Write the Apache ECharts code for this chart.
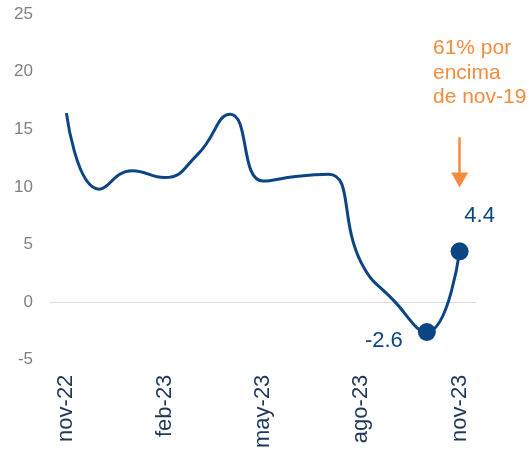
<!DOCTYPE html>
<html>
<head>
<meta charset="utf-8">
<script src="https://cdn.jsdelivr.net/npm/echarts@6/dist/echarts.min.js"></script>
<style>
  html, body {margin: 0; padding: 0; background: #fff;}
  #chart {width: 529px; height: 451px;}
</style>
</head>
<body>
<div id="chart"></div>
<script>
// datos
const months = ['nov-22', 'dic-22', 'ene-23', 'feb-23', 'mar-23', 'abr-23', 'may-23',
  'jun-23', 'jul-23', 'ago-23', 'sep-23', 'oct-23', 'nov-23'];
const values = [16.4, 9.8, 11.4, 10.8, 12.8, 16.3, 10.5, 10.9, 11.1, 3.4, 0.1, -2.6, 4.4];
const yTicks = [-5, 0, 5, 10, 15, 20, 25];
const note = ['61% por', 'encima', 'de nov-19'];
const arrowFrom = 14.3;
const arrowTo = 10.6;

const blue = '#0b4584';
const orange = '#f58b3e';
const font = '"Liberation Sans", Arial, sans-serif';

const myChart = echarts.init(document.getElementById('chart'));

// solo los dos últimos puntos llevan marcador y etiqueta
const lineData = values.map((v, i) => {
  if (i < values.length - 2) return v;
  const last = i === values.length - 1;
  return {
    value: v,
    symbol: 'circle',
    symbolSize: 18,
    label: {
      show: true,
      position: 'inside',
      offset: last ? [20, -35] : [-43, 9],
      formatter: v.toFixed(1),
      color: blue,
      fontSize: 22,
      fontFamily: font
    }
  };
});

myChart.setOption({
  animation: false,
  grid: {left: 50, right: 53, top: 14, bottom: 91},
  xAxis: [
    {
      type: 'category',
      data: months,
      position: 'bottom',
      axisLine: {onZero: true, lineStyle: {color: '#d9d9d9', width: 1}},
      axisTick: {show: false},
      axisLabel: {show: false}
    },
    {
      type: 'category',
      data: months,
      position: 'bottom',
      axisLine: {show: false, onZero: false},
      axisTick: {show: false},
      axisLabel: {
        interval: 2,
        rotate: 90,
        margin: 15,
        color: '#1f3659',
        fontSize: 22,
        fontFamily: font
      }
    }
  ],
  yAxis: {
    type: 'value',
    min: yTicks[0],
    max: yTicks[yTicks.length - 1],
    interval: 5,
    axisLine: {show: false},
    axisTick: {show: false},
    splitLine: {show: false},
    axisLabel: {margin: 17, color: '#7f7f7f', fontSize: 17, fontFamily: font}
  },
  series: [
    {
      type: 'line',
      data: lineData,
      smooth: 0.5,
      symbol: 'none',
      showSymbol: true,
      lineStyle: {color: blue, width: 3},
      itemStyle: {color: blue},
      emphasis: {disabled: true},
      silent: true
    },
    {
      type: 'line',
      data: [],
      silent: true,
      markLine: {
        silent: true,
        symbol: ['none', 'triangle'],
        symbolSize: [17, 15],
        label: {show: false},
        lineStyle: {color: orange, width: 2.5, type: 'solid'},
        emphasis: {disabled: true},
        data: [[
          {coord: [months[months.length - 1], arrowFrom]},
          {coord: [months[months.length - 1], arrowTo]}
        ]]
      }
    }
  ],
  graphic: [{
    type: 'text',
    left: 433,
    top: 36,
    silent: true,
    style: {
      text: note.join('\n'),
      fill: orange,
      font: '21px ' + font,
      lineHeight: 24.5
    }
  }]
});
</script>
</body>
</html>
